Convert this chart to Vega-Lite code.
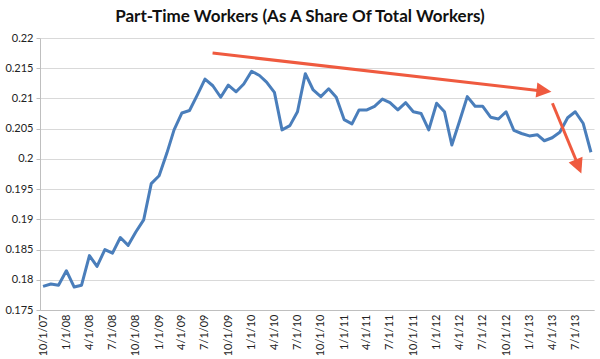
{
  "$schema": "https://vega.github.io/schema/vega-lite/v6.json",
  "width": 554,
  "height": 272,
  "autosize": {"type": "none"},
  "padding": {"left": 40, "top": 38, "right": 6, "bottom": 49},
  "background": "white",
  "title": {
    "text": "Part-Time Workers (As A Share Of Total Workers)",
    "font": "Lato",
    "fontSize": 17,
    "fontWeight": "bold",
    "color": "#111111",
    "anchor": "middle",
    "frame": "group",
    "dx": -17,
    "dy": 21,
    "offset": 14,
    "baseline": "alphabetic"
  },
  "config": {
    "view": {"stroke": null},
    "axis": {
      "labelFont": "Lato",
      "labelFontSize": 11,
      "labelColor": "#222222",
      "domainColor": "#BFBFBF",
      "gridColor": "#D9D9D9",
      "tickColor": "#BFBFBF",
      "title": null
    }
  },
  "datasets": {
    "series": [
      {"month": "2007-10-01", "share": 0.1789},
      {"month": "2007-11-01", "share": 0.1793},
      {"month": "2007-12-01", "share": 0.1791},
      {"month": "2008-01-01", "share": 0.1815},
      {"month": "2008-02-01", "share": 0.1788},
      {"month": "2008-03-01", "share": 0.1791},
      {"month": "2008-04-01", "share": 0.1840},
      {"month": "2008-05-01", "share": 0.1822},
      {"month": "2008-06-01", "share": 0.1850},
      {"month": "2008-07-01", "share": 0.1844},
      {"month": "2008-08-01", "share": 0.1870},
      {"month": "2008-09-01", "share": 0.1857},
      {"month": "2008-10-01", "share": 0.1879},
      {"month": "2008-11-01", "share": 0.1899},
      {"month": "2008-12-01", "share": 0.1959},
      {"month": "2009-01-01", "share": 0.1972},
      {"month": "2009-02-01", "share": 0.2010},
      {"month": "2009-03-01", "share": 0.2048},
      {"month": "2009-04-01", "share": 0.2076},
      {"month": "2009-05-01", "share": 0.2080},
      {"month": "2009-06-01", "share": 0.2106},
      {"month": "2009-07-01", "share": 0.2132},
      {"month": "2009-08-01", "share": 0.2121},
      {"month": "2009-09-01", "share": 0.2102},
      {"month": "2009-10-01", "share": 0.2122},
      {"month": "2009-11-01", "share": 0.2111},
      {"month": "2009-12-01", "share": 0.2124},
      {"month": "2010-01-01", "share": 0.2145},
      {"month": "2010-02-01", "share": 0.2138},
      {"month": "2010-03-01", "share": 0.2127},
      {"month": "2010-04-01", "share": 0.2110},
      {"month": "2010-05-01", "share": 0.2048},
      {"month": "2010-06-01", "share": 0.2055},
      {"month": "2010-07-01", "share": 0.2078},
      {"month": "2010-08-01", "share": 0.2141},
      {"month": "2010-09-01", "share": 0.2114},
      {"month": "2010-10-01", "share": 0.2103},
      {"month": "2010-11-01", "share": 0.2116},
      {"month": "2010-12-01", "share": 0.2102},
      {"month": "2011-01-01", "share": 0.2065},
      {"month": "2011-02-01", "share": 0.2058},
      {"month": "2011-03-01", "share": 0.2081},
      {"month": "2011-04-01", "share": 0.2081},
      {"month": "2011-05-01", "share": 0.2087},
      {"month": "2011-06-01", "share": 0.2099},
      {"month": "2011-07-01", "share": 0.2093},
      {"month": "2011-08-01", "share": 0.2081},
      {"month": "2011-09-01", "share": 0.2093},
      {"month": "2011-10-01", "share": 0.2078},
      {"month": "2011-11-01", "share": 0.2075},
      {"month": "2011-12-01", "share": 0.2048},
      {"month": "2012-01-01", "share": 0.2092},
      {"month": "2012-02-01", "share": 0.2078},
      {"month": "2012-03-01", "share": 0.2023},
      {"month": "2012-04-01", "share": 0.2063},
      {"month": "2012-05-01", "share": 0.2103},
      {"month": "2012-06-01", "share": 0.2087},
      {"month": "2012-07-01", "share": 0.2087},
      {"month": "2012-08-01", "share": 0.2069},
      {"month": "2012-09-01", "share": 0.2066},
      {"month": "2012-10-01", "share": 0.2078},
      {"month": "2012-11-01", "share": 0.2047},
      {"month": "2012-12-01", "share": 0.2042},
      {"month": "2013-01-01", "share": 0.2038},
      {"month": "2013-02-01", "share": 0.2040},
      {"month": "2013-03-01", "share": 0.2030},
      {"month": "2013-04-01", "share": 0.2035},
      {"month": "2013-05-01", "share": 0.2044},
      {"month": "2013-06-01", "share": 0.2068},
      {"month": "2013-07-01", "share": 0.2078},
      {"month": "2013-08-01", "share": 0.2059},
      {"month": "2013-09-01", "share": 0.2011}
    ],
    "shafts": [
      {"month": "2009-07-31", "share": 0.2175, "monthEnd": "2013-02-28", "shareEnd": 0.2112},
      {"month": "2013-04-02", "share": 0.2092, "monthEnd": "2013-07-13", "shareEnd": 0.1989}
    ],
    "head1": [{"month": "2013-03-29", "share": 0.2111}],
    "head2": [{"month": "2013-07-25", "share": 0.1976}]
  },
  "encoding": {
    "x": {
      "field": "month",
      "type": "temporal",
      "scale": {
        "type": "utc",
        "domain": [
          {"year": 2007, "month": 9, "date": 19, "utc": true},
          {"year": 2013, "month": 9, "date": 13, "utc": true}
        ]
      },
      "axis": {
        "labelExpr": "utcFormat(datum.value, '%-m/%-d/%y')",
        "tickCount": {"interval": "month", "step": 3},
        "labelAngle": -90,
        "labelAlign": "right",
        "labelBaseline": "middle",
        "labelPadding": 4,
        "grid": false,
        "ticks": false,
        "labelOverlap": false,
        "labelFlush": false
      }
    },
    "y": {
      "field": "share",
      "type": "quantitative",
      "scale": {"domain": [0.175, 0.22], "nice": false, "zero": false},
      "axis": {
        "values": [0.175, 0.18, 0.185, 0.19, 0.195, 0.2, 0.205, 0.21, 0.215, 0.22],
        "format": ".3~f",
        "tickSize": 4,
        "labelPadding": 3,
        "labelOverlap": false,
        "labelFlush": false,
        "grid": true
      }
    }
  },
  "layer": [
    {
      "data": {"name": "series"},
      "mark": {"type": "line", "color": "#4A7EBB", "strokeWidth": 3, "strokeJoin": "round"}
    },
    {
      "data": {"name": "shafts"},
      "mark": {"type": "rule", "color": "#EF5A3F", "strokeWidth": 3},
      "encoding": {
        "x2": {"field": "monthEnd"},
        "y2": {"field": "shareEnd"}
      }
    },
    {
      "data": {"name": "head1"},
      "mark": {"type": "point", "shape": "M0,0L-2,-1L-2,1Z", "filled": true, "opacity": 1, "color": "#EF5A3F", "size": 225, "angle": 6.6, "strokeWidth": 0}
    },
    {
      "data": {"name": "head2"},
      "mark": {"type": "point", "shape": "M0,0L-2,-1L-2,1Z", "filled": true, "opacity": 1, "color": "#EF5A3F", "size": 225, "angle": 67.5, "strokeWidth": 0}
    }
  ]
}
